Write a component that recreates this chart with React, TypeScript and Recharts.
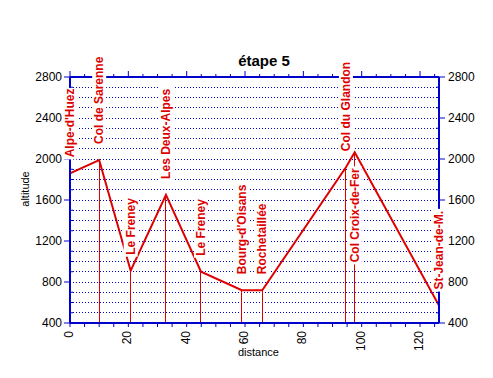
import {
  ComposedChart,
  Line,
  XAxis,
  YAxis,
  ReferenceLine,
  LabelList,
} from "recharts";

// profile of the stage: places, distance (km) and altitude (m)
const places = [
  "Alpe-d'Huez",
  "Col de Sarenne",
  "Le Freney",
  "Les Deux-Alpes",
  "Le Freney",
  "Bourg-d'Oisans",
  "Rochetaillée",
  "Col du Glandon",
  "Col Croix-de-Fer",
  "St-Jean-de-M.",
];
const distances = [0, 10, 20.8, 32.9, 44.9, 58.9, 65.9, 94.6, 97.6, 126.5];
const altitudes = [1860, 1990, 910, 1650, 900, 720, 720, 1920, 2065, 570];

const xTicks = [0, 5, 10, 15, 20, 25, 30, 35, 40, 45, 50, 55, 60, 65, 70, 75, 80, 85, 90, 95, 100, 105, 110, 115, 120, 125];
const xLabels = [0, 20, 40, 60, 80, 100, 120];
const yTicks = [
  400, 500, 600, 700, 800, 900, 1000, 1100, 1200, 1300, 1400, 1500, 1600, 1700, 1800, 1900, 2000, 2100, 2200,
  2300, 2400, 2500, 2600, 2700, 2800,
];
const yLabels = [400, 800, 1200, 1600, 2000, 2400, 2800];

const BLUE = "#0000cc";
const RED = "#dd0000";
const FONT = "'Liberation Sans', Arial, sans-serif";

// labels that sit under their point instead of above it
const LABEL_BELOW = ["Col Croix-de-Fer"];

const data = places.map((name, i) => ({
  name,
  distance: distances[i],
  altitude: altitudes[i],
}));

// rough Arial bold advance widths (per 1000 em) for the label backgrounds
const BOLD_W: Record<string, number> = {
  " ": 278, "'": 238, "-": 333, ".": 278, A: 722, B: 722, C: 722, D: 722, F: 611, G: 778, J: 556, L: 611,
  M: 833, R: 722, S: 667, a: 556, c: 556, d: 611, e: 556, "é": 556, g: 611, h: 611, i: 278, l: 278, n: 611,
  o: 611, p: 611, r: 389, s: 556, t: 333, u: 611, x: 556, y: 556, z: 500,
};
const textWidth = (s: string, size: number) =>
  s.split("").reduce((sum, c) => sum + (BOLD_W[c] ?? 600), 0) * size / 1000;

function BottomTick({ x, y, payload }: any) {
  const v = payload.value;
  return (
    <g>
      <line x1={x} x2={x} y1={y} y2={y + 4} stroke={BLUE} />
      {xLabels.includes(v) && (
        <text
          transform={`translate(${x - 1},${y + 8}) rotate(-90)`}
          textAnchor="end"
          dominantBaseline="central"
          fontSize={12}
          fontFamily={FONT}
          fill="#000"
        >
          {v}
        </text>
      )}
    </g>
  );
}

function TopTick({ x, y, payload }: any) {
  const major = xLabels.includes(payload.value);
  return <line x1={x} x2={x} y1={y} y2={y - (major ? 6 : 3)} stroke={BLUE} />;
}

function LeftTick({ x, y, payload }: any) {
  const v = payload.value;
  const major = yLabels.includes(v);
  return (
    <g>
      {major ? (
        <line x1={x} x2={x - 6} y1={y} y2={y} stroke={BLUE} />
      ) : (
        <line x1={x} x2={x + 3} y1={y} y2={y} stroke={BLUE} />
      )}
      {major && (
        <text x={x - 8} y={y} textAnchor="end" dominantBaseline="central" fontSize={12} fontFamily={FONT} fill="#000">
          {v}
        </text>
      )}
    </g>
  );
}

function RightTick({ x, y, payload }: any) {
  const v = payload.value;
  const major = yLabels.includes(v);
  return (
    <g>
      {major ? (
        <line x1={x} x2={x + 6} y1={y} y2={y} stroke={BLUE} />
      ) : (
        <line x1={x} x2={x - 3} y1={y} y2={y} stroke={BLUE} />
      )}
      {major && (
        <text x={x + 9} y={y} textAnchor="start" dominantBaseline="central" fontSize={12} fontFamily={FONT} fill="#000">
          {v}
        </text>
      )}
    </g>
  );
}

function PlaceLabel({ x, y, value }: any) {
  const name = String(value);
  const w = textWidth(name, 12);
  const below = LABEL_BELOW.includes(name);
  const ty = below ? y + 16 + w : y - 16;
  return (
    <g transform={`translate(${x},${ty}) rotate(-90)`}>
      <rect x={-2} y={-7} width={w + 4} height={14} fill="#fff" />
      <text
        x={0}
        y={0}
        dominantBaseline="central"
        fontSize={12}
        fontWeight="bold"
        fontFamily={FONT}
        fill={RED}
      >
        {name}
      </text>
    </g>
  );
}

export default function App() {
  return (
    <div style={{ position: "absolute", left: 0, top: 0, width: 493, height: 378, background: "#fff" }}>
      <ComposedChart width={493} height={378} data={data} margin={{ top: 57, right: 14, bottom: 25, left: 30 }}>
        <XAxis
          dataKey="distance"
          type="number"
          domain={[0, 126.5]}
          allowDataOverflow
          ticks={xTicks}
          interval={0}
          height={30}
          tickSize={0}
          tickMargin={0}
          tickLine={false}
          axisLine={{ stroke: BLUE, strokeWidth: 2 }}
          tick={<BottomTick />}
          label={{
            content: ({ viewBox }: any) => (
              <text
                x={viewBox.x + viewBox.width / 2 + 4}
                y={viewBox.y + 33}
                textAnchor="middle"
                fontSize={11}
                fontFamily={FONT}
                fill="#000"
              >
                distance
              </text>
            ),
          }}
        />
        <XAxis
          xAxisId="top"
          orientation="top"
          dataKey="distance"
          type="number"
          domain={[0, 126.5]}
          allowDataOverflow
          ticks={xTicks}
          interval={0}
          height={20}
          tickSize={0}
          tickMargin={0}
          tickLine={false}
          axisLine={{ stroke: BLUE, strokeWidth: 2 }}
          tick={<TopTick />}
          label={{
            content: ({ viewBox }: any) => (
              <text
                x={viewBox.x + viewBox.width / 2 + 9.5}
                y={viewBox.y + 9}
                textAnchor="middle"
                fontSize={15}
                fontWeight="bold"
                fontFamily={FONT}
                fill="#000"
              >
                étape 5
              </text>
            ),
          }}
        />
        <YAxis
          type="number"
          domain={[400, 2800]}
          allowDataOverflow
          ticks={yTicks}
          interval={0}
          width={40}
          tickSize={0}
          tickMargin={0}
          tickLine={false}
          axisLine={{ stroke: BLUE, strokeWidth: 2 }}
          tick={<LeftTick />}
          label={{
            content: ({ viewBox }: any) => (
              <text
                transform={`translate(${viewBox.x - 5},${viewBox.y + viewBox.height / 2 - 11}) rotate(-90)`}
                textAnchor="middle"
                dominantBaseline="central"
                fontSize={11}
                fontFamily={FONT}
                fill="#000"
              >
                altitude
              </text>
            ),
          }}
        />
        <YAxis
          yAxisId="right"
          orientation="right"
          type="number"
          domain={[400, 2800]}
          allowDataOverflow
          ticks={yTicks}
          interval={0}
          width={40}
          tickSize={0}
          tickMargin={0}
          tickLine={false}
          axisLine={{ stroke: BLUE, strokeWidth: 2 }}
          tick={<RightTick />}
        />
        {/* dotted horizontal grid, one line per 100 m */}
        {yTicks.slice(1, -1).map((v) => (
          <ReferenceLine
            key={`g${v}`}
            y={v}
            stroke={BLUE}
            strokeDasharray="1 2"
            shapeRendering="crispEdges"
          />
        ))}
        {data.slice(1).map((d, i) => (
          <ReferenceLine
            key={i}
            segment={[
              { x: d.distance, y: d.altitude },
              { x: d.distance, y: 400 },
            ]}
            stroke={RED}
            strokeWidth={1}
            shapeRendering="crispEdges"
          />
        ))}
        <Line
          type="linear"
          dataKey="altitude"
          stroke={RED}
          strokeWidth={2}
          dot={false}
          activeDot={false}
          isAnimationActive={false}
        >
          <LabelList dataKey="name" content={<PlaceLabel />} />
        </Line>
      </ComposedChart>
    </div>
  );
}
